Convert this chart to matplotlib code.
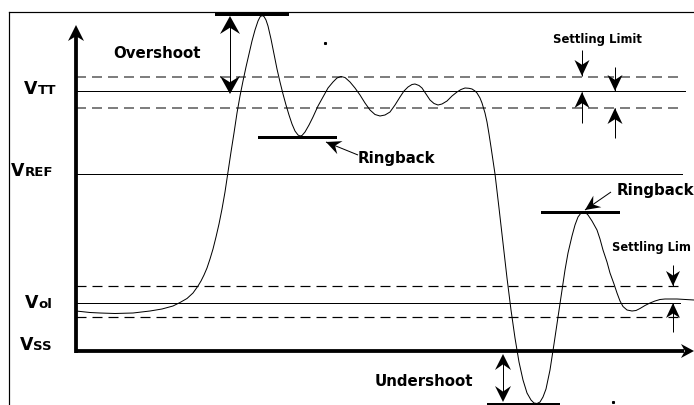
import numpy as np
import matplotlib
matplotlib.use("Agg")
import matplotlib.pyplot as plt

# ---------------- data (pixel-like diagram coordinates) ----------------
level_names = ["VTT_hi", "VTT", "VTT_lo", "VREF", "Vol_hi", "Vol", "Vol_lo"]
level_y = [77, 91, 108, 174, 286, 303, 317]
level_dashed = [True, False, True, False, True, False, True]
level_xend = [683, 685, 683, 682, 683, 680, 682]

vss_y = 351

wave_x = [76, 90, 100, 115, 133, 150, 162, 173, 180, 187, 193, 198, 201, 204, 207,
          210, 213, 216, 219, 222, 225, 228, 231, 234, 237, 240, 243, 246, 249, 252,
          255, 258, 260, 262, 264, 266, 268, 271, 274, 277, 280, 283, 286, 289, 292,
          295, 298, 300, 302, 305, 309, 313, 318, 323, 328, 333, 337, 341, 345, 350,
          355, 360, 365, 370, 375, 380, 385, 390, 395, 400, 404, 408, 412, 415, 419,
          422, 426, 430, 434, 438, 442, 447, 452, 457, 461, 465, 469, 472, 475, 477,
          480, 482, 485, 487, 489, 491, 495, 499, 503, 507, 511, 515, 519, 523, 527,
          531, 534, 537, 540, 543, 546, 550, 554, 558, 562, 565, 568, 572, 575, 578,
          581, 583, 586, 588, 592, 597, 600, 603, 607, 610, 614, 617, 620, 623, 627,
          632, 636, 640, 645, 650, 655, 660, 665, 677, 694]
wave_y = [311, 312.5, 313, 313.5, 313, 311, 309, 306, 302.5, 298.5, 293, 286, 281, 275, 268,
          259, 249, 237, 224, 209, 192, 172, 152, 133, 113, 96, 81, 67, 54, 41,
          30, 21, 17, 15.5, 16.5, 20, 26, 39, 54, 69, 82, 94, 105, 115, 124,
          131, 135, 136, 135.5, 132, 125, 117, 106, 97, 88, 82, 78, 76.5, 77.5, 82,
          88, 95, 103, 110, 114.5, 116, 115, 112, 105, 97, 91, 87, 84.5, 84, 85.5,
          88, 94, 100, 103.5, 105, 104, 101, 96, 92, 89.5, 88, 88.3, 89, 91, 93,
          98, 103, 113, 122, 134, 147, 174, 208, 243, 278, 310, 338, 362, 380, 393,
          400, 403, 403.5, 402, 397, 389, 370, 344, 317, 290, 270, 253, 236, 225, 217,
          213, 212, 213, 215, 221, 230, 239, 250, 262, 273, 284, 293, 301, 306.5, 310,
          311, 310.5, 308.5, 305.5, 303, 301, 299.5, 299, 299, 300]

level_labels = [("V", "TT", 37, 94), ("V", "REF", 24, 176), ("V", "ol", 38, 308), ("V", "SS", 33, 350)]

# ---------------- figure ----------------
W, H = 694, 405
fig = plt.figure(figsize=(W / 100, H / 100), dpi=100)
ax = fig.add_axes([0, 0, 1, 1])
ax.set_xlim(0, W)
ax.set_ylim(H, 0)
ax.axis("off")

PX = 0.72  # points per pixel


def head(tip, direction, length=14, width=14, notch=0.3, color="black"):
    tx, ty = tip
    d = np.array(direction, float)
    d = d / np.hypot(*d)
    n = np.array([-d[1], d[0]])
    t = np.array([tx, ty])
    back = t - length * d
    pts = [t, back + n * width / 2, t - (1 - notch) * length * d, back - n * width / 2]
    pts = np.array(pts)
    ax.fill(pts[:, 0], pts[:, 1], color=color, lw=0, zorder=5)


def arrow(tail, tip, length=14, width=14, lw=1.0, notch=0.3):
    ax.plot([tail[0], tip[0]], [tail[1], tip[1]], color="black", lw=lw * PX,
            solid_capstyle="butt", zorder=4)
    head(tip, (tip[0] - tail[0], tip[1] - tail[1]), length, width, notch)


# frame
ax.plot([9, W], [12, 12], color="black", lw=1.2 * PX)
ax.plot([9, 9], [12, H], color="black", lw=1.2 * PX)

# level lines
for y, dashed, xe in zip(level_y, level_dashed, level_xend):
    if dashed:
        col = "#555555" if y < 150 else "black"
        lw = 1.5 if y < 150 else 1.2
        ax.plot([76, xe], [y, y], color=col, lw=lw * PX, dashes=(10 / lw, 6 / lw))
    else:
        ax.plot([76, xe], [y, y], color="black", lw=1.0 * PX)

# axes arrows
ax.plot([76, 76], [vss_y + 1.5, 36], color="black", lw=3.8 * PX, solid_capstyle="butt")
head((76, 25), (0, -1), length=16, width=16, notch=0.3)
ax.plot([75, 684], [vss_y, vss_y], color="black", lw=3.8 * PX, solid_capstyle="butt")
head((694, vss_y), (1, 0), length=13, width=14, notch=0.3)

# waveform
ax.plot(wave_x, wave_y, color="black", lw=1.0 * PX, zorder=3, solid_joinstyle="round")

# bars
bar_lw = 3.0 * PX
ax.plot([216, 287], [14, 14], color="black", lw=bar_lw)
ax.plot([259, 335], [137, 137], color="black", lw=bar_lw)
ax.plot([542, 618], [212, 212], color="black", lw=bar_lw)
ax.plot([488, 558], [403.5, 403.5], color="black", lw=bar_lw)

# overshoot double arrow
ax.plot([230, 230], [25, 85], color="black", lw=1.0 * PX)
head((230, 16), (0, -1), length=18, width=20, notch=0.35)
head((230, 94), (0, 1), length=18, width=20, notch=0.35)

# undershoot double arrow
ax.plot([503, 503], [362, 394], color="black", lw=1.0 * PX)
head((503, 354), (0, -1), length=16, width=16, notch=0.35)
head((503, 402), (0, 1), length=16, width=16, notch=0.35)

# settling limit arrows (top)
arrow((582, 50), (582, 76), length=16, width=15)
arrow((582, 123), (582, 92), length=16, width=15)
arrow((615, 67), (615, 91), length=16, width=15)
arrow((615, 138), (615, 108), length=16, width=15)
# settling limit arrows (bottom)
arrow((673, 265), (673, 286), length=15, width=14)
arrow((673, 332), (673, 303), length=15, width=14)

# ringback arrows
arrow((358, 155), (326, 142), length=15, width=14, notch=0.35)
arrow((611, 192), (585, 210), length=15, width=14, notch=0.35)

# small specks
ax.plot([325], [43], marker="s", ms=1.2, color="black")
ax.plot([613], [402], marker="s", ms=1.2, color="black")

# texts
tk = dict(color="black", fontweight="bold", family="DejaVu Sans")
ax.text(113, 53, "Overshoot", fontsize=10.8, ha="left", va="center", **tk)
ax.text(358, 159, "Ringback", fontsize=10.8, ha="left", va="center", **tk)
ax.text(617, 190, "Ringback", fontsize=10.8, ha="left", va="center", **tk)
ax.text(375, 382, "Undershoot", fontsize=10.8, ha="left", va="center", **tk)
ax.text(553, 39, "Settling Limit", fontsize=8.4, ha="left", va="center", **tk)
ax.text(612, 247, "Settling Lim", fontsize=8.3, ha="left", va="center", **tk)

for big, sub, x, yb in level_labels:
    ax.text(x, yb, big, fontsize=12.5, ha="right", va="baseline", **tk)
    ax.text(x + 0.5, yb, sub, fontsize=9.5, ha="left", va="baseline", **tk)

fig.savefig("out.png", dpi=100, facecolor="white")
